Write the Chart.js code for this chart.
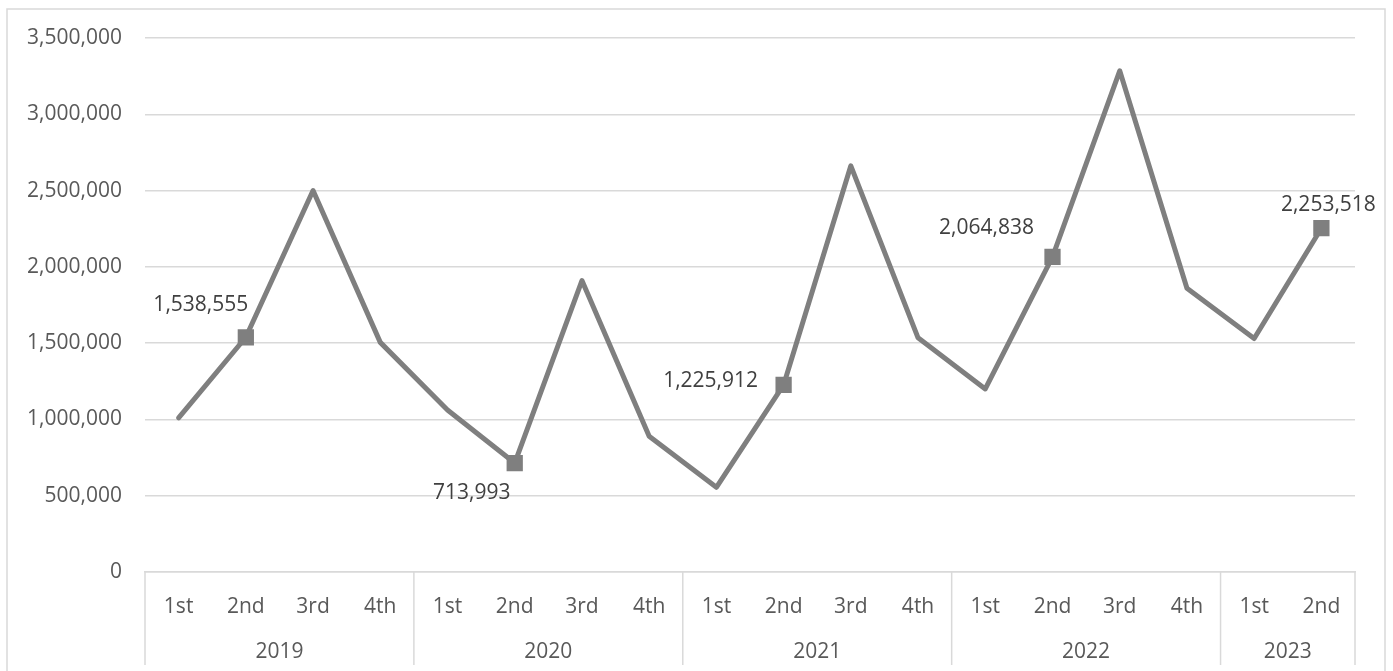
<!DOCTYPE html>
<html>
<head>
<meta charset="utf-8">
<script src="https://cdn.jsdelivr.net/npm/chart.js@4.4.1/dist/chart.umd.min.js"></script>
<style>
  html, body { margin: 0; padding: 0; background: #ffffff; }
  #wrap { width: 1393px; height: 671px; position: relative; }
</style>
</head>
<body>
<div id="wrap"><canvas id="quarterChart"></canvas></div>
<script>
// data
const quarters = ['1st', '2nd', '3rd', '4th', '1st', '2nd', '3rd', '4th', '1st', '2nd', '3rd', '4th', '1st', '2nd', '3rd', '4th', '1st', '2nd'];
const years = ['2019', '2020', '2021', '2022', '2023'];
const quartersPerYear = [4, 4, 4, 4, 2];
const values = [
  1010000, 1538555, 2500000, 1505000,
  1062000, 713993, 1910000, 890000,
  555000, 1225912, 2662000, 1535000,
  1200000, 2064838, 3285000, 1860000,
  1530000, 2253518,
];
const yTicks = [0, 500000, 1000000, 1500000, 2000000, 2500000, 3000000, 3500000];

const TEXT = '#595959';
const LINE = '#7f7f7f';
const GRID = '#d9d9d9';
const FONT = '"Open Sans", sans-serif';

// only 2nd quarters get a marker + label
const isMarked = (i) => quarters[i] === '2nd';
// label offsets from the marker, same order as the marked points
const labelOffsets = [
  [-45, -32],
  [-43, 30],
  [-73, -4],
  [-66, -29],
  [7, -23],
];

const yearAxisPlugin = {
  id: 'yearAxis',
  beforeDraw(chart) {
    const { ctx } = chart;
    // outer frame
    ctx.save();
    ctx.strokeStyle = GRID;
    ctx.lineWidth = 1.5;
    ctx.strokeRect(7, 9, 1378, 700);
    ctx.restore();
  },
  afterDraw(chart) {
    const { ctx, scales } = chart;
    const x = scales.x;
    const half = (x.getPixelForValue(1) - x.getPixelForValue(0)) / 2;
    const top = chart.chartArea.bottom;
    ctx.save();
    ctx.strokeStyle = GRID;
    ctx.lineWidth = 1.5;
    ctx.fillStyle = TEXT;
    ctx.font = '21px ' + FONT;
    ctx.textAlign = 'center';
    ctx.textBaseline = 'middle';
    let start = 0;
    const edges = [x.getPixelForValue(0) - half];
    years.forEach((year, i) => {
      const end = start + quartersPerYear[i] - 1;
      const left = x.getPixelForValue(start) - half;
      const right = x.getPixelForValue(end) + half;
      edges.push(right);
      ctx.fillText(year, (left + right) / 2, top + 80);
      start = end + 1;
    });
    edges.forEach((px) => {
      ctx.beginPath();
      ctx.moveTo(px, top);
      ctx.lineTo(px, top + 93);
      ctx.stroke();
    });
    ctx.restore();
  },
};

const dataLabelPlugin = {
  id: 'dataLabels',
  afterDatasetsDraw(chart) {
    const { ctx } = chart;
    const meta = chart.getDatasetMeta(0);
    ctx.save();
    ctx.fillStyle = '#404040';
    ctx.font = '21px ' + FONT;
    ctx.textAlign = 'center';
    ctx.textBaseline = 'middle';
    let n = 0;
    meta.data.forEach((pt, i) => {
      if (!isMarked(i)) return;
      const [dx, dy] = labelOffsets[n++] || [0, -25];
      ctx.fillText(values[i].toLocaleString('en-US'), pt.x + dx, pt.y + dy);
    });
    ctx.restore();
  },
};

const ctx = document.getElementById('quarterChart').getContext('2d');

const config = {
  type: 'line',
  data: {
    labels: quarters,
    datasets: [
      {
        data: values,
        borderColor: LINE,
        borderWidth: 5,
        borderJoinStyle: 'round',
        borderCapStyle: 'round',
        tension: 0,
        pointStyle: 'rect',
        pointRadius: (c) => (isMarked(c.dataIndex) ? 11.5 : 0),
        pointHoverRadius: (c) => (isMarked(c.dataIndex) ? 11.5 : 0),
        pointBorderWidth: 0,
        pointBackgroundColor: LINE,
        fill: false,
      },
    ],
  },
  options: {
    responsive: false,
    animation: false,
    devicePixelRatio: 1,
    layout: {
      padding: { left: 0, top: 38, right: 38, bottom: 0 },
    },
    scales: {
      x: {
        type: 'category',
        offset: true,
        afterFit: (scale) => {
          scale.height = 99;
        },
        grid: { display: false },
        border: { display: true, color: GRID, width: 1.5 },
        ticks: {
          color: TEXT,
          padding: 14,
          maxRotation: 0,
          autoSkip: false,
          font: { family: FONT, size: 21 },
        },
      },
      y: {
        min: 0,
        max: 3500000,
        afterFit: (scale) => {
          scale.width = 145;
        },
        afterBuildTicks: (scale) => {
          scale.ticks = yTicks.map((v) => ({ value: v }));
        },
        grid: { color: GRID, lineWidth: 1.5, drawTicks: false },
        border: { display: false },
        ticks: {
          color: TEXT,
          padding: 23,
          font: { family: FONT, size: 21 },
          callback: (value) => value.toLocaleString('en-US'),
        },
      },
    },
    plugins: {
      legend: { display: false },
      tooltip: { enabled: false },
    },
  },
  plugins: [yearAxisPlugin, dataLabelPlugin],
};

const canvas = document.getElementById('quarterChart');
canvas.width = 1393;
canvas.height = 671;
new Chart(ctx, config);
</script>
</body>
</html>
